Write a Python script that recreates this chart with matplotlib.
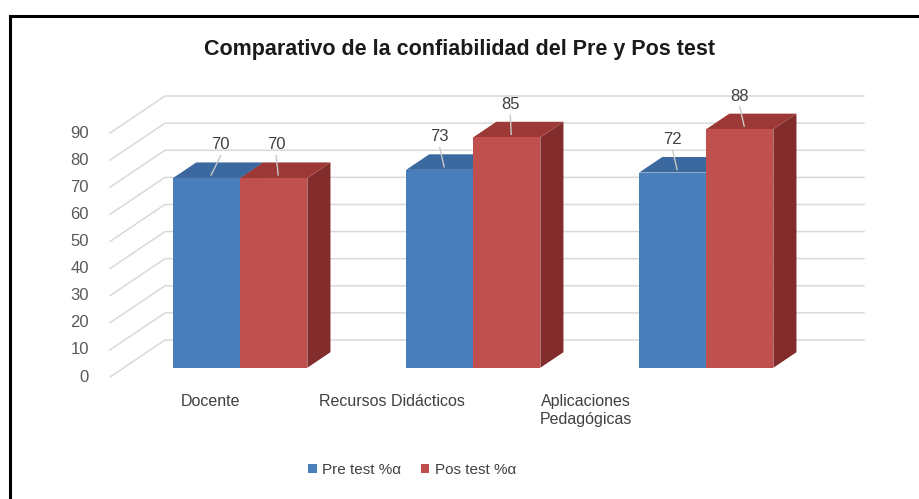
import matplotlib
matplotlib.use("Agg")
import matplotlib.pyplot as plt
from matplotlib.patches import Polygon, Patch
from matplotlib.lines import Line2D

plt.rcParams['font.family'] = ['Liberation Sans', 'DejaVu Sans']

# data
categorias = ["Docente", "Recursos Didácticos", "Aplicaciones\nPedagógicas"]
pre_test = [70, 73, 72]
pos_test = [70, 85, 88]
series = ["Pre test %α", "Pos test %α"]
y_ticks = list(range(0, 100, 10))

# colours (front, top, side) for each series
colores = [("#4a7ebb", "#3a689f", "#2f5683"),
           ("#c0504d", "#9c3936", "#822d2b")]

# layout, in pixels of the 920x499 picture
W, H = 920, 499
X0, SLOT = 110, 233          # front edge of the floor, width of a category
Y0, UNIT = 377, 2.711        # y of value 0 on the front plane, px per unit
DEPTH = (55, -37)            # shift front plane -> back wall
D_FRONT, D_BACK = 0.25, 0.67 # bar depth inside the box
BAR_W = 0.288
cat_label_px = [210, 392, 586]
label_nudge = [[0.06, 0.01], [0.0, 0.015], [0.0, 0.0]]

fig = plt.figure(figsize=(9.2, 4.99), dpi=100)
ax = fig.add_axes([0, 0, 1, 1])
ax.set_xlim((0 - X0) / SLOT, (W - X0) / SLOT)
ax.set_ylim((Y0 - H) / UNIT, Y0 / UNIT)
ax.axis('off')

ddx = DEPTH[0] / SLOT
ddv = -DEPTH[1] / UNIT


def proj(x, v, d):
    # oblique projection: x in categories, v in value, d depth 0..1
    return x + ddx * d, v + ddv * d


n = len(categorias)
grid_c = "#d9d9d9"

# back wall and side wall gridlines
for v in y_ticks:
    p0 = proj(0, v, 0)
    p1 = proj(0, v, 1)
    p2 = proj(n, v, 1)
    ax.plot([p0[0], p1[0], p2[0]], [p0[1], p1[1], p2[1]],
            color=grid_c, lw=1.1, zorder=1, solid_joinstyle='round')
    ax.text(proj(0, v, 0)[0] - 0.09, v, str(v), ha='right', va='center',
            fontsize=12, color="#595959")

# bars
for i in range(n):
    for j, vals in enumerate([pre_test, pos_test]):
        val = vals[i]
        xl = i + 0.5 - BAR_W + j * BAR_W
        xr = xl + BAR_W
        front_c, top_c, side_c = colores[j]
        front = [proj(xl, 0, D_FRONT), proj(xr, 0, D_FRONT),
                 proj(xr, val, D_FRONT), proj(xl, val, D_FRONT)]
        top = [proj(xl, val, D_FRONT), proj(xr, val, D_FRONT),
               proj(xr, val, D_BACK), proj(xl, val, D_BACK)]
        side = [proj(xr, 0, D_FRONT), proj(xr, 0, D_BACK),
                proj(xr, val, D_BACK), proj(xr, val, D_FRONT)]
        z = 3 + i * 2 + j
        ax.add_patch(Polygon(side, closed=True, fc=side_c, ec='none', zorder=z))
        ax.add_patch(Polygon(top, closed=True, fc=top_c, ec='none', zorder=z))
        ax.add_patch(Polygon(front, closed=True, fc=front_c, ec='none', zorder=z))

        # data label with a short leader line
        cx = (xl + xr) / 2
        lx, ly = proj(cx + label_nudge[i][j], val + 12.2, D_FRONT)
        tx, ty = proj(cx, val, D_FRONT + 0.08)
        ax.plot([lx, tx], [ly - 4.0, ty], color="#c8c8c8", lw=1.0, zorder=20)
        ax.text(lx, ly, str(val), ha='center', va='center', fontsize=12,
                color="#404040", zorder=21)

# category labels
for k, lab in enumerate(categorias):
    ax.text((cat_label_px[k] - X0) / SLOT, (Y0 - 394) / UNIT, lab,
            ha='center', va='top', multialignment='center',
            fontsize=11.5, color="#404040", linespacing=1.25)

# title
fig.text(0.5, 1 - 50 / H, "Comparativo de la confiabilidad del Pre y Pos test",
         ha='center', va='center', fontsize=15.5, fontweight='bold',
         color="#1a1a1a")

# legend
handles = [Patch(facecolor=colores[0][0]), Patch(facecolor=colores[1][0])]
fig.legend(handles, series, loc='center', bbox_to_anchor=(412 / W, 1 - 470 / H),
           ncol=2, frameon=False, fontsize=11, handlelength=0.55,
           handleheight=0.55, handletextpad=0.35, columnspacing=1.3,
           labelcolor="#404040")

# frame (only top and left edges are in the picture)
fig.add_artist(Line2D([10 / W, 10 / W], [0, 1 - 16 / H], color='black',
                      lw=2.2, transform=fig.transFigure))
fig.add_artist(Line2D([10 / W, 1], [1 - 16 / H, 1 - 16 / H], color='black',
                      lw=2.2, transform=fig.transFigure))

fig.savefig("out.png", dpi=100)
